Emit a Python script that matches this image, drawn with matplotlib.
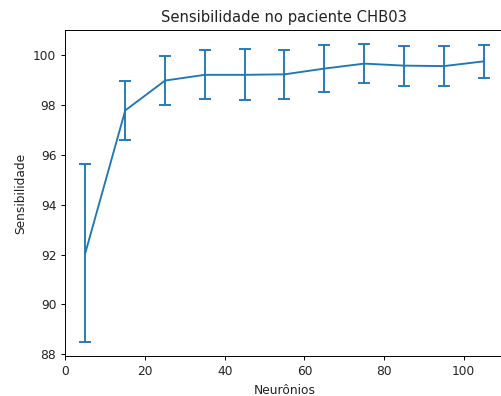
import matplotlib
matplotlib.use("Agg")
import matplotlib.pyplot as plt

neurons = [5, 15, 25, 35, 45, 55, 65, 75, 85, 95, 105]
sens_mean = [92.08, 97.79, 98.99, 99.22, 99.22, 99.24, 99.47, 99.67, 99.59, 99.57, 99.76]
sens_err = [3.57, 1.17, 0.97, 0.99, 1.02, 0.98, 0.94, 0.78, 0.80, 0.80, 0.66]

fig = plt.figure(figsize=(5.02, 3.96), dpi=100)
ax = fig.add_axes([65.5 / 502, 40 / 396, 438 / 502, 326 / 396])
ax.errorbar(neurons, sens_mean, yerr=sens_err, color="#1f77b4", linewidth=1.35,
            elinewidth=1.35, capsize=4.4, capthick=1.35)
ax.set_title("Sensibilidade no paciente CHB03", fontsize=10.6, color="#222222")
ax.set_xlabel("Neurônios", fontsize=8.8, color="#222222")
ax.set_ylabel("Sensibilidade", fontsize=8.8, color="#222222")
ax.tick_params(labelsize=8.8, length=3.1, width=0.7, labelcolor="#222222")
for s in ax.spines.values():
    s.set_linewidth(0.7)
ax.set_xlim(0, 110)
ax.set_ylim(87.93, 101.02)
ax.set_xticks([0, 20, 40, 60, 80, 100])
ax.set_yticks([88, 90, 92, 94, 96, 98, 100])
fig.savefig("out.png", dpi=100)
